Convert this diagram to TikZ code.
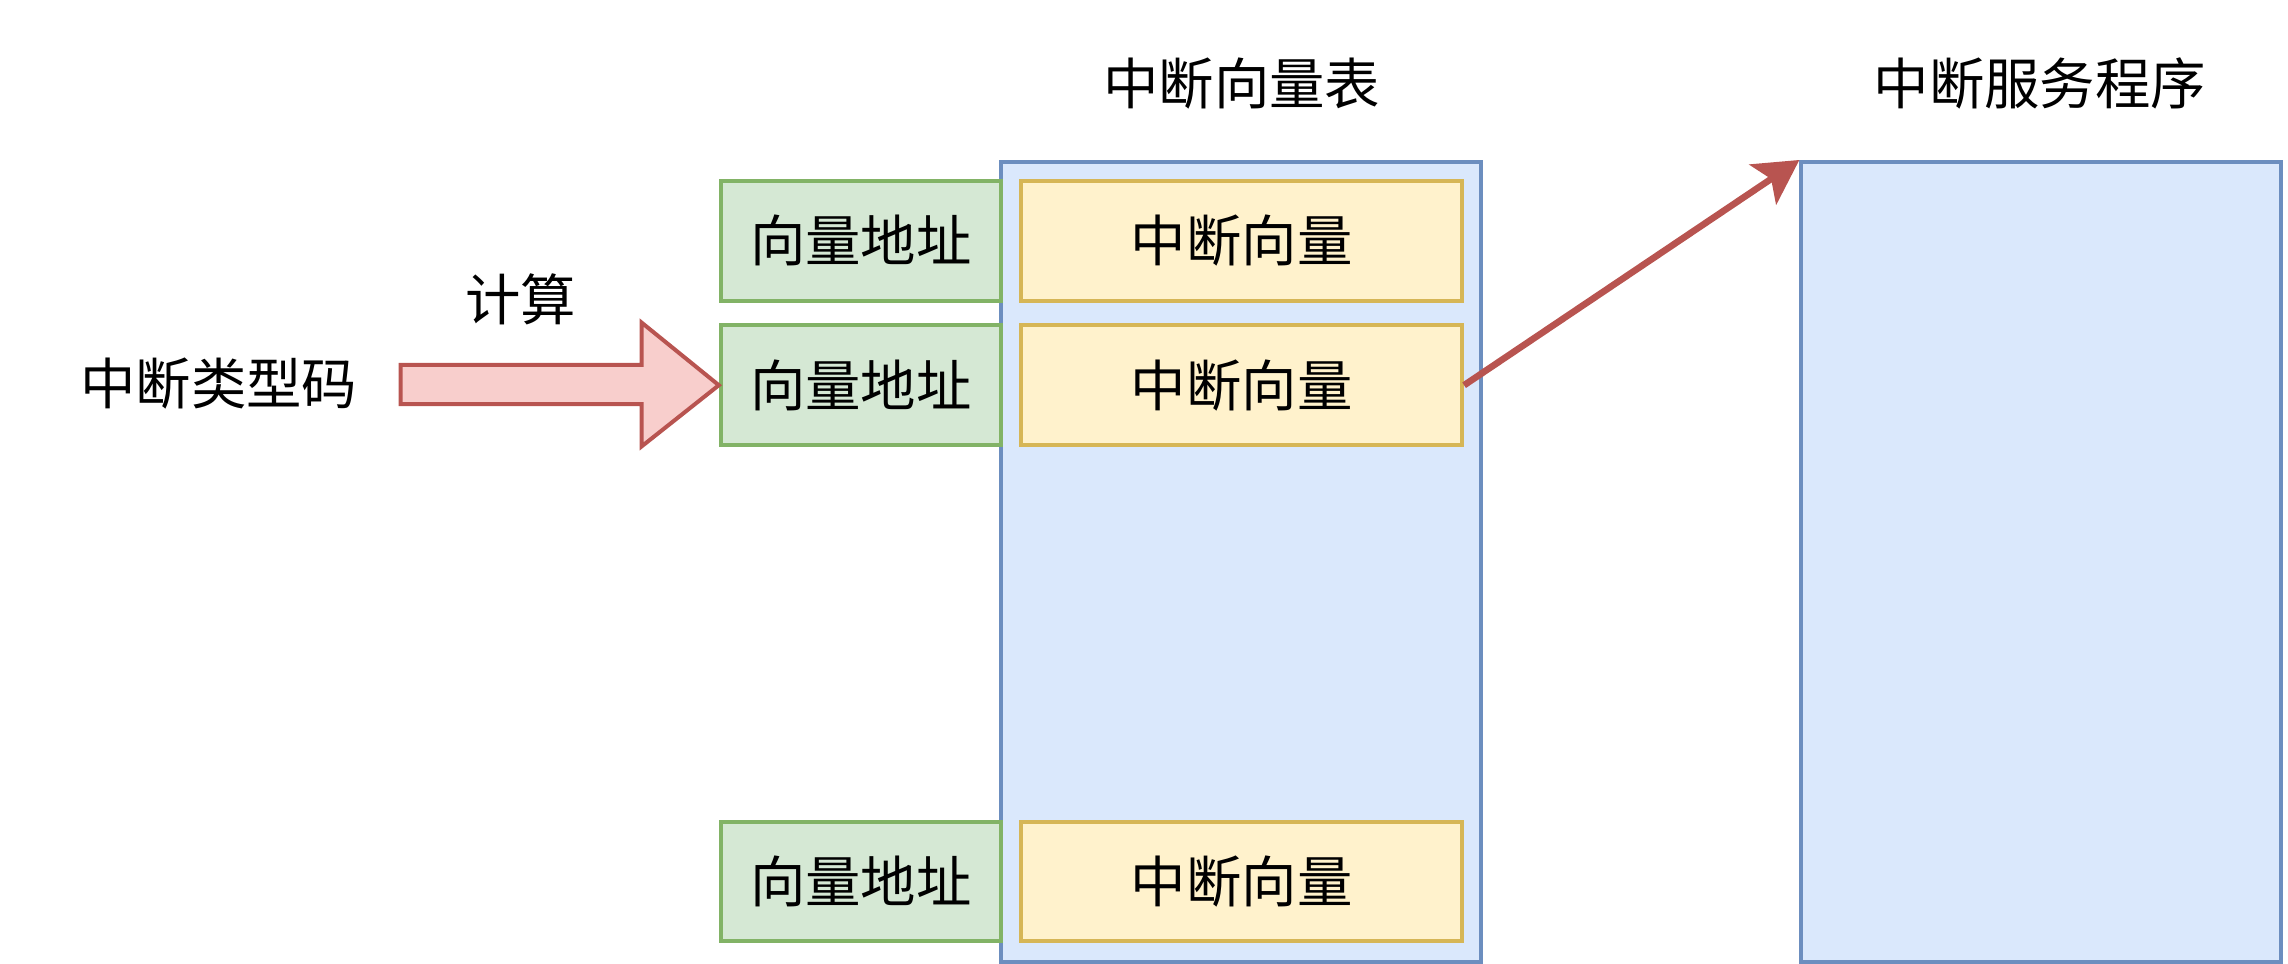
\documentclass[tikz,border=0pt]{standalone}
\usepackage{fontspec}
\setmainfont{Noto Sans CJK SC}
\usepackage{tikz}
\usetikzlibrary{calc,arrows.meta}
\usetikzlibrary{positioning}

\definecolor{greenfill}{HTML}{D5E8D4}
\definecolor{greenline}{HTML}{82B366}
\definecolor{yellowfill}{HTML}{FFF2CC}
\definecolor{yellowline}{HTML}{D6B656}
\definecolor{bluefill}{HTML}{DAE8FC}
\definecolor{blueline}{HTML}{6C8EBF}
\definecolor{redfill}{HTML}{F8CECC}
\definecolor{redline}{HTML}{B85450}

\tikzset{
  every node/.style={font=\fontsize{27.7pt}{33pt}\selectfont, inner sep=0pt},
  addrbox/.style={draw=greenline, fill=greenfill, line width=2pt, minimum width=192*0.7296pt, minimum height=82*0.7296pt},
  vecbox/.style={draw=yellowline, fill=yellowfill, line width=2pt, minimum width=302*0.7296pt, minimum height=82*0.7296pt},
  tablebox/.style={draw=blueline, fill=bluefill, line width=2pt, minimum width=329*0.7296pt, minimum height=548*0.7296pt},
}

\begin{document}
\begin{tikzpicture}[x=0.7296pt,y=0.7296pt,yscale=-1,xscale=1]
\useasboundingbox (0,0) rectangle (1568,660.6);

% tables
\node[tablebox] (table) at (850.5,385) {};
\node[tablebox] (isr) at (1399,385) {};

% titles
\node (tabletitle) at (851,57) {中断向量表};
\node (isrtitle) at (1398,57) {中断服务程序};

% address column
\node[addrbox] (addr1) at (590,165) {向量地址};
\node[addrbox] (addr2) at (590,264) {向量地址};
\node[addrbox] (addr3) at (590,604) {向量地址};

% vector column
\node[vecbox] (vec1) at (851,165) {中断向量};
\node[vecbox] (vec2) at (851,264) {中断向量};
\node[vecbox] (vec3) at (851,604) {中断向量};

% input
\node (code) at (150,263) {中断类型码};
\node (calc) at (357,205) {计算};

% block arrow
\draw[draw=redline, fill=redfill, line width=2pt, line join=miter]
  ($(addr2.west)+(-218,-14)$) -- ($(addr2.west)+(-53,-14)$) -- ($(addr2.west)+(-53,-43)$)
  -- (addr2.west) -- ($(addr2.west)+(-53,42)$) -- ($(addr2.west)+(-53,13)$)
  -- ($(addr2.west)+(-218,13)$) -- cycle;

% pointer
\draw[draw=redline, line width=3.3pt, -{Stealth[length=22pt,width=24pt,inset=5pt]}] (vec2.east) -- (isr.north west);

\end{tikzpicture}
\end{document}
